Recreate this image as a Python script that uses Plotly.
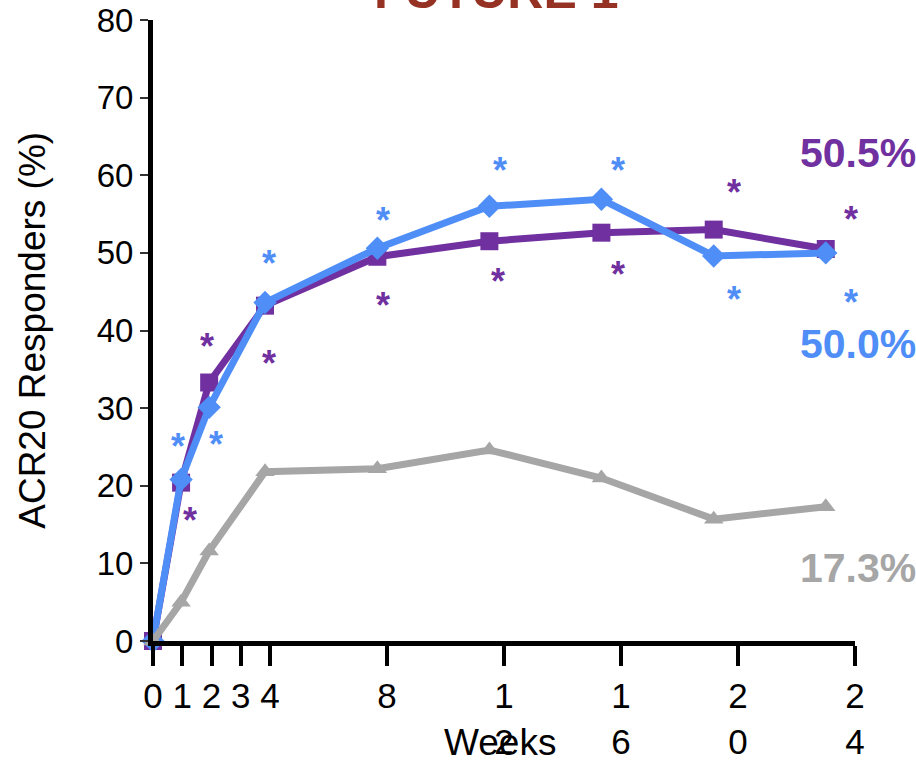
import plotly.graph_objects as go

# Visit weeks and the plotted x positions of each visit
weeks = [0, 1, 2, 4, 8, 12, 16, 20, 24]
visit_x = [0, 0.96, 1.92, 3.83, 7.67, 11.5, 15.33, 19.17, 23.0]

# ACR20 responders (%) per arm
purple_arm = [0, 20.4, 33.3, 43.2, 49.5, 51.5, 52.6, 53.0, 50.5]
blue_arm = [0, 20.8, 30.1, 43.6, 50.6, 56.0, 56.9, 49.6, 50.0]
placebo_arm = [0, 5.0, 11.6, 21.8, 22.2, 24.6, 21.0, 15.7, 17.3]

# Significance asterisks (x, y) for each active arm
blue_star_x = [0.85, 2.15, 3.96, 7.85, 11.85, 15.9, 19.85, 23.85]
blue_star_y = [26.1, 26.4, 49.7, 55.2, 61.7, 61.7, 45.0, 44.6]
purple_star_x = [1.25, 1.84, 3.97, 7.86, 11.8, 15.9, 19.85, 23.85]
purple_star_y = [16.5, 39.0, 36.8, 44.2, 47.4, 48.3, 58.8, 55.3]

# Axis ticks
x_tickvals = [0, 1, 2, 3, 4, 8, 12, 16, 20, 24]
x_ticktext = ["0", "1", "2", "3", "4", "8", "1<br>2", "1<br>6", "2<br>0", "2<br>4"]
y_tickvals = [0, 10, 20, 30, 40, 50, 60, 70, 80]

PURPLE = "#7030a0"
BLUE = "#4f8ef7"
GRAY = "#a6a6a6"
TITLE_RED = "#953224"
SANS = "Liberation Sans, Arial, sans-serif"

fig = go.Figure()

fig.add_trace(go.Scatter(
    x=visit_x, y=purple_arm, mode="lines+markers", cliponaxis=False,
    line=dict(color=PURPLE, width=7),
    marker=dict(symbol="square", size=18, color=PURPLE),
    showlegend=False))
fig.add_trace(go.Scatter(
    x=visit_x, y=blue_arm, mode="lines+markers", cliponaxis=False,
    line=dict(color=BLUE, width=7),
    marker=dict(symbol="diamond", size=18, color=BLUE),
    showlegend=False))
fig.add_trace(go.Scatter(
    x=visit_x, y=placebo_arm, mode="lines+markers", cliponaxis=False,
    line=dict(color=GRAY, width=7),
    marker=dict(symbol="triangle-up", size=17, color=GRAY),
    showlegend=False))

annotations = []
for sx, sy in zip(blue_star_x, blue_star_y):
    annotations.append(dict(x=sx, y=sy, xref="x", yref="y", text="<b>*</b>", showarrow=False,
                            yshift=-8, font=dict(family=SANS, size=36, color=BLUE)))
for sx, sy in zip(purple_star_x, purple_star_y):
    annotations.append(dict(x=sx, y=sy, xref="x", yref="y", text="<b>*</b>", showarrow=False,
                            yshift=-8, font=dict(family=SANS, size=36, color=PURPLE)))

# End-of-study values beside the last visit
for arm, color, ylab in [(purple_arm, PURPLE, 62.9), (blue_arm, BLUE, 38.3), (placebo_arm, GRAY, 9.4)]:
    annotations.append(dict(x=22.04, y=ylab, xref="x", yref="y", xanchor="left", yanchor="middle",
                            text=f"<b>{arm[-1]:.1f}%</b>", showarrow=False,
                            font=dict(family=SANS, size=41, color=color)))

annotations.append(dict(x=0.4886, y=1.046, xref="paper", yref="paper", text="<b>FUTURE 1</b>",
                        showarrow=False, xanchor="center", yanchor="middle",
                        font=dict(family=SANS, size=50, color=TITLE_RED)))
annotations.append(dict(x=-0.172, y=0.5, xref="paper", yref="paper", text="ACR20 Responders (%)",
                        textangle=-90, showarrow=False, xanchor="center", yanchor="middle",
                        font=dict(family=SANS, size=37, color="black")))
annotations.append(dict(x=0.4936, y=-0.163, xref="paper", yref="paper", text="Weeks",
                        showarrow=False, xanchor="center", yanchor="middle",
                        font=dict(family=SANS, size=37, color="black")))

fig.update_layout(
    width=916, height=765,
    margin=dict(l=153, r=61, t=20, b=124, autoexpand=False),
    paper_bgcolor="white", plot_bgcolor="white",
    annotations=annotations,
    xaxis=dict(range=[0, 24], tickvals=x_tickvals, ticktext=x_ticktext, automargin=False,
               showgrid=False, zeroline=False, showline=True, linecolor="black", linewidth=5,
               ticks="outside", ticklen=20, tickwidth=4, tickcolor="black",
               tickfont=dict(family=SANS, size=35, color="black")),
    yaxis=dict(range=[0, 80], tickvals=y_tickvals, automargin=False,
               showgrid=False, zeroline=False, showline=True, linecolor="black", linewidth=5,
               ticks="outside", ticklen=8, tickwidth=2, tickcolor="#333333",
               tickfont=dict(family=SANS, size=33, color="black")),
)

fig.write_html("out.html")
